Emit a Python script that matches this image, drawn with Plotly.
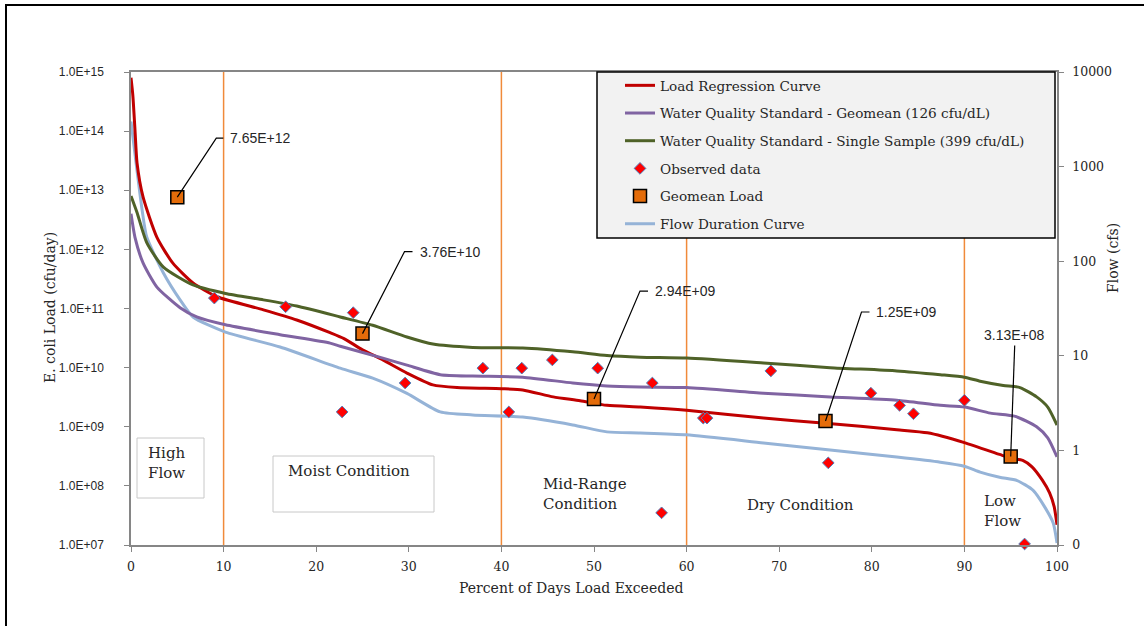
import numpy as np
import plotly.graph_objects as go

# ---------------- data ----------------
pct_load = [0, 0.2, 0.43, 0.65, 1.3, 2.8, 4.5, 6.7, 9.3, 14.3, 17.9, 21.5, 23, 25, 27.2, 29.8,
            32.6, 35.2, 40, 42.3, 45.6, 48.5, 51.4, 55, 60, 68.3, 75, 82.7, 86, 90, 93.8, 95,
            96.3, 97.3, 98.4, 99.2, 99.7, 100]
load_regression = [8e14, 4e14, 1.05e14, 2.9e13, 7.7e12, 1.6e12, 5.9e11, 2.7e11, 1.58e11, 9.5e10,
                   6.4e10, 3.9e10, 3.1e10, 2.0e10, 1.35e10, 8.1e9, 5.1e9, 4.6e9, 4.4e9, 4.2e9,
                   3.2e9, 2.75e9, 2.3e9, 2.15e9, 1.9e9, 1.4e9, 1.15e9, 8.9e8, 7.9e8, 5.4e8, 3.4e8,
                   2.95e8, 2.7e8, 2.1e8, 1.26e8, 7.6e7, 4.4e7, 2.2e7]

pct_geo_std = [0, 0.43, 1.3, 2.8, 5.3, 7.1, 10.2, 16.1, 21.5, 22.6, 27.2, 29.8, 33.4, 36.9, 42.3,
               47.7, 51.4, 55, 60, 68.3, 75.5, 82.7, 87.4, 90, 92.8, 95.5, 97.8, 99, 100]
geo_std = [4e12, 1.6e12, 5.9e11, 2.3e11, 1.03e11, 7.2e10, 5.3e10, 3.6e10, 2.6e10, 2.3e10, 1.45e10,
           1.1e10, 7.6e9, 7.2e9, 6.9e9, 5.5e9, 4.9e9, 4.7e9, 4.6e9, 3.7e9, 3.2e9, 2.8e9, 2.3e9,
           2.15e9, 1.7e9, 1.5e9, 1.0e9, 6.5e8, 3.1e8]

pct_single_std = [0, 0.65, 1.7, 3.5, 6.7, 10.2, 14.3, 17.9, 22.6, 26.1, 29.8, 32.6, 36.9, 42.3,
                  47.7, 51.4, 55, 60, 68.3, 75.5, 82.7, 87.4, 90, 91.7, 94.2, 96, 97.8, 99, 100]
single_std = [8e12, 4.2e12, 1.3e12, 5.0e11, 2.5e11, 1.8e11, 1.4e11, 1.1e11, 7.2e10, 5.2e10, 3.3e10,
              2.5e10, 2.2e10, 2.15e10, 1.85e10, 1.6e10, 1.5e10, 1.45e10, 1.2e10, 1.0e10, 8.8e9,
              7.6e9, 6.9e9, 5.9e9, 5.0e9, 4.6e9, 3.2e9, 2.15e9, 1.07e9]

pct_flow = [0, 0.65, 1.2, 1.7, 3.5, 5.3, 6.7, 10.2, 16.1, 22.6, 26.1, 29.8, 33.4, 36.9, 42.3, 47.7,
            51.4, 55, 60, 68.3, 75.5, 82.7, 87.4, 90, 91.7, 93.8, 95.7, 97.4, 98.7, 99.6, 100]
flow_cfs = [3000, 910, 348, 180, 75, 39, 25.7, 17.8, 12.4, 7.4, 5.8, 4.0, 2.55, 2.37, 2.25, 1.86,
            1.57, 1.53, 1.46, 1.2, 1.01, 0.85, 0.75, 0.68, 0.59, 0.52, 0.48, 0.38, 0.25, 0.17, 0.105]

obs_pct = [9.0, 16.7, 24.0, 22.8, 29.6, 38.0, 40.8, 42.2, 45.5, 50.4, 56.3, 61.8, 62.2, 69.1,
           75.3, 79.9, 83.0, 84.5, 90.0, 57.3, 96.5]
obs_load = [1.5e11, 1.07e11, 8.5e10, 1.78e9, 5.5e9, 9.8e9, 1.78e9, 9.8e9, 1.35e10, 9.8e9, 5.5e9,
            1.4e9, 1.4e9, 8.8e9, 2.45e8, 3.7e9, 2.3e9, 1.66e9, 2.8e9, 3.5e7, 1.04e7]

geo_pct = [5, 25, 50, 75, 95]
geo_load = [7.65e12, 3.76e10, 2.94e9, 1.25e9, 3.13e8]
geo_labels = ["7.65E+12", "3.76E+10", "2.94E+09", "1.25E+09", "3.13E+08"]

zone_bounds = [10, 40, 60, 90]

x_ticks = [0, 10, 20, 30, 40, 50, 60, 70, 80, 90, 100]
load_ticks = [1e7, 1e8, 1e9, 1e10, 1e11, 1e12, 1e13, 1e14, 1e15]
load_tick_text = ["1.0E+07", "1.0E+08", "1.0E+09", "1.0E+10", "1.0E+11", "1.0E+12",
                  "1.0E+13", "1.0E+14", "1.0E+15"]
flow_ticks = [0.1, 1, 10, 100, 1000, 10000]
flow_tick_text = ["0", "1", "10", "100", "1000", "10000"]

# ---------------- styling ----------------
SERIF = "DejaVu Serif"
SANS = "Liberation Sans"
TXT = "#262626"
AXC = "#868686"

fig = go.Figure()

def line_trace(x, y, name, color, yaxis, width=3):
    return go.Scatter(x=x, y=y, name=name, mode="lines", yaxis=yaxis, legendgroup=name,
                      line=dict(color=color, width=width, shape="spline", smoothing=0.6))

fig.add_trace(line_trace(pct_load, load_regression, "Load Regression Curve", "#c00000", "y2"))
fig.add_trace(line_trace(pct_geo_std, geo_std, "Water Quality Standard - Geomean (126 cfu/dL)", "#8064a2", "y2"))
fig.add_trace(line_trace(pct_single_std, single_std, "Water Quality Standard - Single Sample (399 cfu/dL)", "#4f6228", "y2"))
fig.add_trace(go.Scatter(x=obs_pct, y=obs_load, name="Observed data", mode="markers", yaxis="y2",
                         legendgroup="obs", cliponaxis=False,
                         marker=dict(symbol="diamond", size=9, color="#ff0000",
                                     line=dict(color="#4f81bd", width=1))))
fig.add_trace(go.Scatter(x=geo_pct, y=geo_load, name="Geomean Load", mode="markers", yaxis="y2",
                         legendgroup="geo",
                         marker=dict(symbol="square", size=13, color="#e46c0a",
                                     line=dict(color="#000000", width=1.5))))
fig.add_trace(line_trace(pct_flow, flow_cfs, "Flow Duration Curve", "#95b3d7", "y"))

def px2xp(px):
    return (px - 131) / 926.0

def py2yp(py):
    return (545 - py) / 473.0

shapes = []
# zone boundaries
for b in zone_bounds:
    shapes.append(dict(type="line", xref="x", yref="paper", x0=b, x1=b, y0=0, y1=1,
                       line=dict(color="#f08a3a", width=1.5), layer="below"))

# leader lines for geomean labels (pixel offsets relative to the square)
leader_paths = ["M0,0 L39,59 L46,59", "M0,0 L42,82 L50,82", "M0,0 L46,108 L54,108",
                "M0,0 L36,109 L44,109", "M0,0 L4,111"]
text_offsets = [(51, 59, "left"), (55, 82, "left"), (59, 108, "left"), (48, 109, "left"), (4, 122, "center")]
annotations = []
for p, v, lab, path, (dx, dy, xa) in zip(geo_pct, geo_load, geo_labels, leader_paths, text_offsets):
    shapes.append(dict(type="path", xref="x", yref="y2", xsizemode="pixel", ysizemode="pixel",
                       xanchor=p, yanchor=v, path=path, line=dict(color="#000000", width=1.2)))
    annotations.append(dict(x=p, y=np.log10(v), xref="x", yref="y2", text=lab, showarrow=False,
                            xshift=dx, yshift=dy, xanchor=xa, yanchor="middle",
                            font=dict(family=SANS, size=14, color=TXT)))

# condition label boxes
shapes.append(dict(type="rect", xref="paper", yref="paper", x0=px2xp(137), x1=px2xp(204),
                   y0=py2yp(498), y1=py2yp(438), line=dict(color="#c8c8c8", width=1),
                   fillcolor="white", layer="below"))
shapes.append(dict(type="rect", xref="paper", yref="paper", x0=px2xp(273), x1=px2xp(434),
                   y0=py2yp(512), y1=py2yp(456), line=dict(color="#c8c8c8", width=1),
                   fillcolor="white", layer="below"))

# legend frame (legend itself is transparent, placed inside this box)
shapes.append(dict(type="rect", xref="paper", yref="paper", x0=px2xp(597), x1=px2xp(1055),
                   y0=py2yp(238), y1=py2yp(72), line=dict(color="#000000", width=1.5),
                   fillcolor="#f2f2f2", layer="above"))

cond_labels = [("High<br>Flow", 146, 463.5), ("Moist Condition", 286, 471),
               ("Mid-Range<br>Condition", 541, 493.5), ("Dry Condition", 745, 505),
               ("Low<br>Flow", 982, 511)]
for t, px, py in cond_labels:
    annotations.append(dict(x=px2xp(px), y=py2yp(py), xref="paper", yref="paper", text=t,
                            showarrow=False, xanchor="left", yanchor="middle", align="left",
                            font=dict(family=SERIF, size=15, color=TXT)))

# axis titles
annotations.append(dict(x=px2xp(40), y=py2yp(308), xref="paper", yref="paper",
                        text="E. coli Load (cfu/day)", textangle=-90, showarrow=False,
                        font=dict(family=SERIF, size=14, color=TXT)))
annotations.append(dict(x=px2xp(1123), y=py2yp(258), xref="paper", yref="paper",
                        text="Flow (cfs)", textangle=-90, showarrow=False,
                        font=dict(family=SERIF, size=14, color=TXT)))
annotations.append(dict(x=px2xp(571), y=py2yp(598), xref="paper", yref="paper",
                        text="Percent of Days Load Exceeded", showarrow=False,
                        font=dict(family=SERIF, size=14, color=TXT)))

# outer frame (left and top edges visible)
shapes.append(dict(type="rect", xref="paper", yref="paper", x0=px2xp(6), x1=px2xp(1300),
                   y0=py2yp(800), y1=py2yp(5), line=dict(color="#000000", width=2)))

fig.update_layout(
    width=1144, height=626,
    margin=dict(l=131, r=87, t=72, b=81),
    paper_bgcolor="white", plot_bgcolor="white",
    shapes=shapes, annotations=annotations,
    legend=dict(x=px2xp(620), y=py2yp(70), xanchor="left", yanchor="top",
                bgcolor="rgba(0,0,0,0)", borderwidth=0,
                font=dict(family=SERIF, size=13.6, color=TXT),
                traceorder="grouped", tracegroupgap=7, itemwidth=30),
    xaxis=dict(range=[0, 100], tickvals=x_ticks, ticks="outside", ticklen=5, tickcolor=AXC,
               showline=True, linecolor=AXC, linewidth=1.5, mirror=True, showgrid=False,
               zeroline=False, ticklabelstandoff=4,
               tickfont=dict(family=SERIF, size=12.5, color=TXT)),
    yaxis=dict(type="log", range=[-1, 4], side="right", tickvals=flow_ticks, ticktext=flow_tick_text,
               ticks="outside", ticklen=5, tickcolor=AXC, showline=True, linecolor=AXC,
               linewidth=1.5, showgrid=False, zeroline=False, ticklabelstandoff=6,
               tickfont=dict(family=SERIF, size=12.5, color=TXT)),
    yaxis2=dict(type="log", range=[7, 15], side="left", overlaying="y", tickvals=load_ticks,
                ticktext=load_tick_text, ticks="outside", ticklen=5, tickcolor=AXC, showline=True,
                linecolor=AXC, linewidth=1.5, showgrid=False, zeroline=False,
                ticklabelstandoff=18, tickfont=dict(family=SANS, size=12, color=TXT)),
)

fig.write_html("out.html", config={"displayModeBar": False},
               post_script="document.body.style.margin='0px';")
